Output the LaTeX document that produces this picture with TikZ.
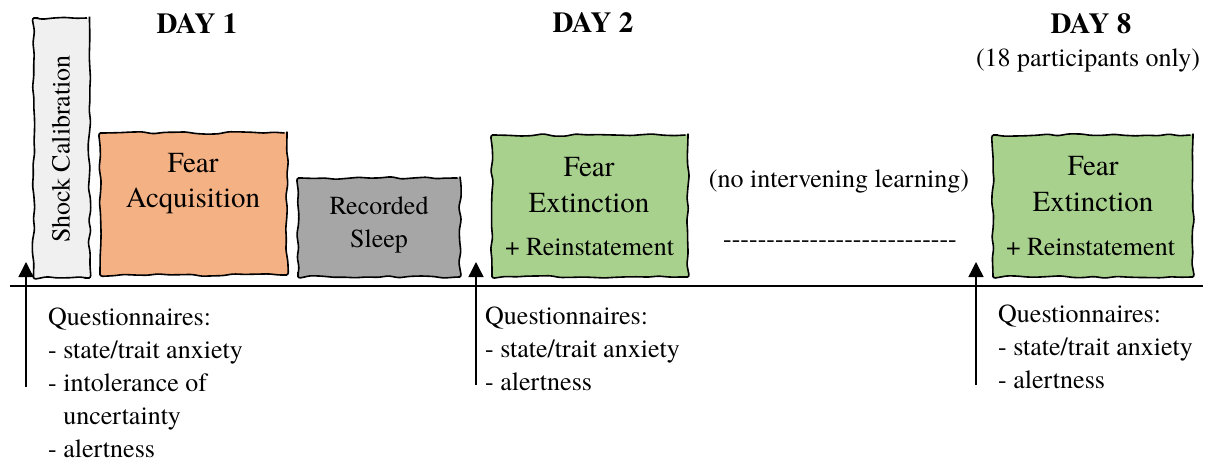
\documentclass[tikz,border=0pt]{standalone}
\usepackage{fontspec}
\setmainfont{TeX Gyre Termes}[Ligatures=TeXOff]
\usetikzlibrary{decorations.pathmorphing,arrows.meta}
\definecolor{shockgray}{HTML}{F0F0F0}
\definecolor{acqorange}{HTML}{F4B183}
\definecolor{sleepgray}{HTML}{A6A6A6}
\definecolor{extgreen}{HTML}{A9D18E}
\begin{document}
\begin{tikzpicture}[x=1pt,y=-1pt,
  sketch/.style={draw=black,line width=1.6pt,inner sep=0pt,
    decorate,decoration={random steps,segment length=11pt,amplitude=1.3pt},
    rounded corners=2.5pt},
  body/.style={font=\fontsize{26}{32}\selectfont,inner sep=0pt,anchor=base},
  big/.style={font=\fontsize{29}{36}\selectfont,inner sep=0pt,anchor=base},
  dayhead/.style={font=\fontsize{29}{34}\selectfont\bfseries,inner sep=0pt,anchor=base},
  qlist/.style={font=\fontsize{26}{33}\selectfont,inner sep=0pt,align=left,anchor=base west},
  uparrow/.style={line width=1.4pt,-{Triangle[width=15pt,length=15pt]}}]
\pgfmathsetseed{7}
\useasboundingbox (0,0) rectangle (1213,461);

% timeline
\coordinate (tlL) at (10,286);
\coordinate (tlR) at (1203,286);
\draw[line width=2.6pt] (tlL) -- (tlR);

% boxes
\node[sketch,fill=shockgray,minimum width=56pt,minimum height=260pt] (shock) at (61.5,148) {};
\node[sketch,fill=acqorange,minimum width=187pt,minimum height=142pt] (acq) at (193.5,204) {};
\node[sketch,fill=sleepgray,minimum width=162pt,minimum height=99pt] (sleep) at (379,227.5) {};
\node[sketch,fill=extgreen,minimum width=196pt,minimum height=142pt] (ext1) at (590,206) {};
\node[sketch,fill=extgreen,minimum width=200pt,minimum height=142pt] (ext2) at (1093,206) {};

% box texts
\node[body,anchor=center,rotate=90] (shockT) at (61,149) {Shock Calibration};
\node[big] (acqT1) at (193,172) {Fear};
\node[big] (acqT2) at (193,207) {Acquisition};
\node[body] (sleepT1) at (379,214) {Recorded};
\node[body] (sleepT2) at (379,247) {Sleep};
\node[big] (ext1T1) at (589,176) {Fear};
\node[big] (ext1T2) at (589,212) {Extinction};
\node[body] (ext1R) at (589.5,255) {+ Reinstatement};
\node[big] (ext2T1) at (1093,175) {Fear};
\node[big] (ext2T2) at (1093,211) {Extinction};
\node[body] (ext2R) at (1090.5,255) {+ Reinstatement};

% headers
\node[dayhead] (d1) at (197,33) {DAY 1};
\node[dayhead] (d2) at (593,32) {DAY 2};
\node[dayhead] (d8) at (1091,33) {DAY 8};
\node[body] (d8note) at (1088,66) {(18 participants only)};

% gap text
\node[body] (gap) at (839,187) {(no intervening learning)};
\node[body] (dashes) at (840,247) {---------------------------};

% arrows
\coordinate (a1b) at (26,387); \coordinate (a1t) at (26,262);
\coordinate (a2b) at (476,385); \coordinate (a2t) at (476,262);
\coordinate (a3b) at (976,385); \coordinate (a3t) at (976,262);
\draw[uparrow] (a1b) -- (a1t);
\draw[uparrow] (a2b) -- (a2t);
\draw[uparrow] (a3b) -- (a3t);

% questionnaires
\node[qlist] (q1) at (48,457) {Questionnaires:\\- state/trait anxiety\\- intolerance of\\\hphantom{- }uncertainty\\- alertness};
\node[qlist] (q2) at (485,390) {Questionnaires:\\- state/trait anxiety\\- alertness};
\node[qlist] (q3) at (998,388) {Questionnaires:\\- state/trait anxiety\\- alertness};
\end{tikzpicture}
\end{document}
